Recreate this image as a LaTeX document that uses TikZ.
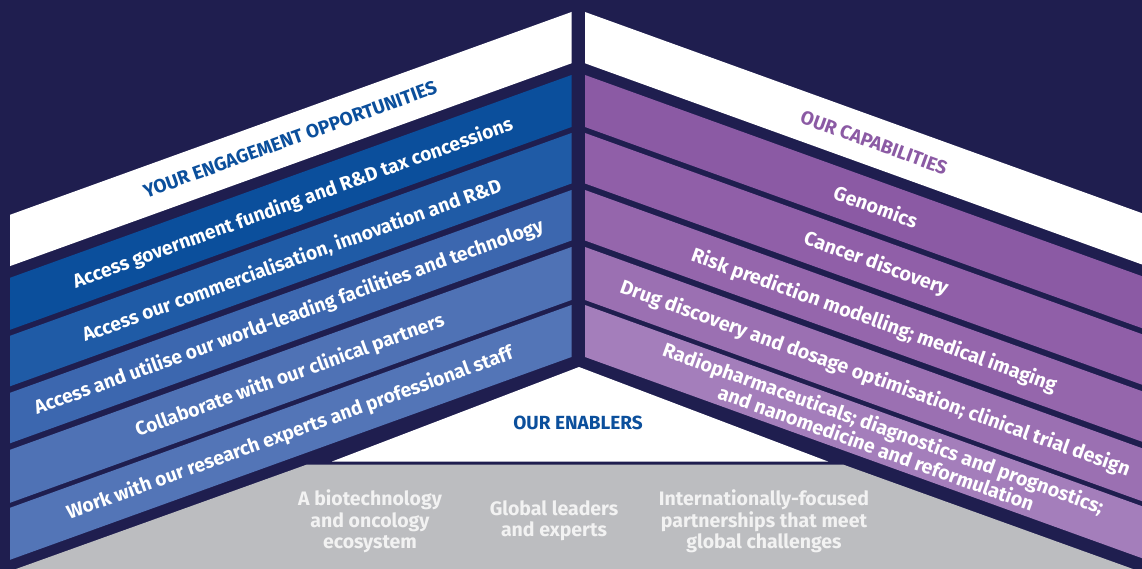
\documentclass[tikz,border=0pt]{standalone}
\usepackage{fontspec}
\setmainfont{Fira Sans}
\definecolor{navy}{HTML}{1F1E4F}
\definecolor{blueA}{HTML}{0B4F9C}
\definecolor{blueB}{HTML}{1F5BA6}
\definecolor{blueC}{HTML}{3C67AF}
\definecolor{blueD}{HTML}{4F72B5}
\definecolor{blueE}{HTML}{5375B7}
\definecolor{purA}{HTML}{8B5AA4}
\definecolor{purB}{HTML}{905FA8}
\definecolor{purC}{HTML}{9566AC}
\definecolor{purD}{HTML}{9B70B2}
\definecolor{purE}{HTML}{A47EBB}
\definecolor{greyE}{HTML}{BCBDC0}
\definecolor{greyT}{HTML}{F2F2F2}
\begin{document}
\begin{tikzpicture}[x=1pt,y=-1pt,
  lefttxt/.style={text=white,font=\bfseries\fontsize{19.3}{20}\selectfont,rotate=19.86,inner sep=0pt,align=center},
  righttxt/.style={text=white,font=\bfseries\fontsize{19.7}{19.5}\selectfont,rotate=-19.86,inner sep=0pt,align=center},
  headtxt/.style={font=\bfseries\fontsize{19}{20}\selectfont,inner sep=0pt},
  greytxt/.style={text=greyT,font=\bfseries\fontsize{19.5}{21.5}\selectfont,align=center,inner sep=0pt}]
\fill[navy] (0,0) rectangle (1142,569);
\useasboundingbox (0,0) rectangle (1142,569);
% left panel
\foreach \t/\b/\c in {12/63.3/white,75/127/blueA,133/183.5/blueB,190/240.5/blueC,247/300/blueD,305/357/blueE}{
  \fill[\c] (10,\t+202.8) -- (571.5,\t) -- (571.5,\b) -- (10,\b+202.8) -- cycle;
}
% right panel
\foreach \t/\b/\c in {12/63.3/white,75/127/purA,133/183.5/purB,190/240.5/purC,247/300/purD,305/357/purE}{
  \fill[\c] (585,\t) -- (1142,\t+201.2) -- (1142,\b+201.2) -- (585,\b) -- cycle;
}
% enablers
\fill[white] (579,367) -- (828,461.5) -- (332,461.5) -- cycle;
\fill[greyE] (307,464.5) -- (843,464.5) -- (1133,569) -- (16,569) -- cycle;
% left texts
\node[headtxt,text=blueA,rotate=19.86] (lh) at (290,139.3) {YOUR ENGAGEMENT OPPORTUNITIES};
\node[lefttxt] (l1) at (293,203.5) {Access government funding and R\&D tax concessions};
\node[lefttxt] (l2) at (292,260.8) {Access our commercialisation, innovation and R\&D};
\node[lefttxt] (l3) at (289,317.5) {Access and utilise our world-leading facilities and technology};
\node[lefttxt] (l4) at (290,376) {Collaborate with our clinical partners};
\node[lefttxt] (l5) at (290,433.5) {Work with our research experts and professional staff};
% right texts
\node[headtxt,text=purA,rotate=-19.86] (rh) at (874,142.8) {OUR CAPABILITIES};
\node[righttxt] (r1) at (876,206.5) {Genomics};
\node[righttxt] (r2) at (876,264) {Cancer discovery};
\node[righttxt] (r3) at (874,321) {Risk prediction modelling; medical imaging};
\node[righttxt] (r4) at (875,379) {Drug discovery and dosage optimisation; clinical trial design};
\node[righttxt] (r5) at (880,437.5) {Radiopharmaceuticals; diagnostics and prognostics;\\and nanomedicine and reformulation};
% enablers texts
\node[headtxt,text=blueA] (eh) at (578,423) {OUR ENABLERS};
\node[greytxt] (e1) at (370,521.5) {A biotechnology\\and oncology\\ecosystem};
\node[greytxt] (e2) at (554,521) {Global leaders\\and experts};
\node[greytxt] (e3) at (764,521.5) {Internationally-focused\\partnerships that meet\\global challenges};
\end{tikzpicture}
\end{document}
